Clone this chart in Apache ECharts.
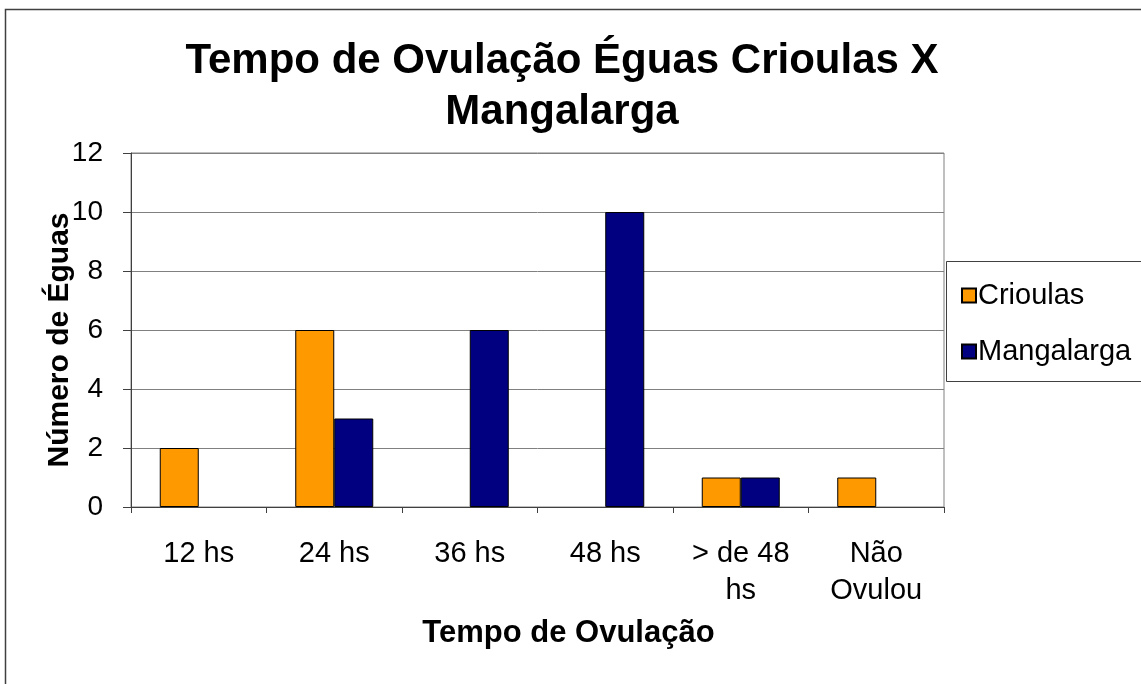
<!DOCTYPE html>
<html>
<head>
<meta charset="utf-8">
<script src="https://cdn.jsdelivr.net/npm/echarts@6/dist/echarts.min.js"></script>
<style>
  html, body { margin: 0; padding: 0; background: #fff; }
  #chart { width: 1141px; height: 684px; }
</style>
</head>
<body>
<div id="chart"></div>
<script>
// data
var categories = ['12 hs', '24 hs', '36 hs', '48 hs', '> de 48\nhs', 'Não\nOvulou']
var crioulas = [2, 6, 0, 0, 1, 1]
var mangalarga = [0, 3, 6, 10, 1, 0]
var yTicks = { min: 0, max: 12, interval: 2 }

var font = 'Liberation Sans, Arial, sans-serif'
var chart = echarts.init(document.getElementById('chart'))

// zero bars should not leave a border line on the axis
function barData (values) {
  return values.map(function (v) {
    return v === 0 ? { value: v, itemStyle: { borderWidth: 0 } } : v
  })
}

var option = {
  backgroundColor: '#fff',
  animation: false,
  title: {
    text: 'Tempo de Ovulação Éguas Crioulas X\nMangalarga',
    left: 557,
    top: 31,
    textAlign: 'center',
    textStyle: {
      fontFamily: font,
      fontSize: 42,
      fontWeight: 'bold',
      color: '#000',
      lineHeight: 51
    }
  },
  legend: {
    orient: 'vertical',
    left: 956,
    top: 276,
    itemWidth: 14,
    itemHeight: 14,
    itemGap: 27,
    icon: 'rect',
    textStyle: { fontFamily: font, fontSize: 29, color: '#000', padding: [0, 0, 0, -3] },
    data: ['Crioulas', 'Mangalarga']
  },
  grid: {
    left: 131,
    top: 153,
    width: 813,
    height: 354,
    show: true,
    borderColor: '#808080',
    borderWidth: 1
  },
  xAxis: {
    type: 'category',
    data: categories,
    name: 'Tempo de Ovulação',
    nameLocation: 'middle',
    nameGap: 111,
    nameTextStyle: { fontFamily: font, fontSize: 31, fontWeight: 'bold', color: '#000', padding: [0, 0, 0, 62] },
    axisLine: { lineStyle: { color: '#404040', width: 1 } },
    axisTick: { show: true, length: 6, lineStyle: { color: '#404040' } },
    axisLabel: { fontFamily: font, fontSize: 29, color: '#000', margin: 28, lineHeight: 37 }
  },
  yAxis: {
    type: 'value',
    min: yTicks.min,
    max: yTicks.max,
    interval: yTicks.interval,
    name: 'Número de Éguas',
    nameLocation: 'middle',
    nameGap: 56,
    nameMoveOverlap: false,
    nameTextStyle: { fontFamily: font, fontSize: 30, fontWeight: 'bold', color: '#000', padding: [0, 20, 0, 0] },
    axisLine: { show: true, lineStyle: { color: '#404040', width: 1 } },
    axisTick: { show: true, length: 8, lineStyle: { color: '#404040' } },
    axisLabel: { fontFamily: font, fontSize: 28, color: '#000', margin: 28 },
    splitLine: { show: true, lineStyle: { color: '#808080', width: 1 } }
  },
  graphic: [
    {
      type: 'rect',
      shape: { x: 5.5, y: 9.5, width: 1200, height: 700 },
      style: { fill: 'none', stroke: '#404040', lineWidth: 1.5 },
      z: 0
    },
    {
      type: 'rect',
      shape: { x: 946.5, y: 261.5, width: 300, height: 120 },
      style: { fill: '#fff', stroke: '#404040', lineWidth: 1 },
      z: 1
    }
  ],
  series: [
    {
      name: 'Crioulas',
      type: 'bar',
      data: barData(crioulas),
      barWidth: 39,
      barGap: '0%',
      itemStyle: { color: '#FF9900', borderColor: '#000', borderWidth: 1 }
    },
    {
      name: 'Mangalarga',
      type: 'bar',
      data: barData(mangalarga),
      barWidth: 39,
      barGap: '0%',
      itemStyle: { color: '#000080', borderColor: '#000', borderWidth: 1 }
    }
  ]
}

chart.setOption(option)
</script>
</body>
</html>
